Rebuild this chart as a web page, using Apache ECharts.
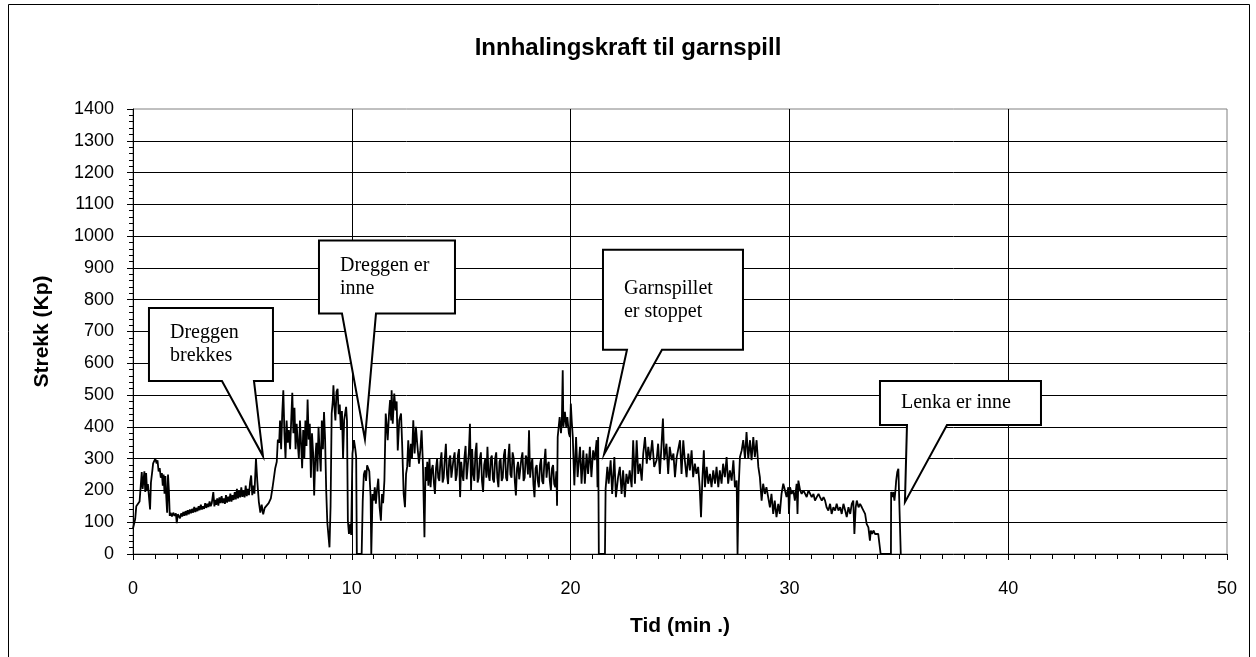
<!DOCTYPE html>
<html>
<head>
<meta charset="utf-8">
<script src="https://cdn.jsdelivr.net/npm/echarts@6/dist/echarts.min.js"></script>
<style>
  html, body { margin: 0; padding: 0; background: #fff; }
  #chart { width: 1256px; height: 657px; }
</style>
</head>
<body>
<div id="chart"></div>
<script>
// måledata: [tid (min), strekk (Kp)]
const punkter = [
  [0.00, 80], [0.05, 95], [0.10, 110], [0.15, 150], [0.22, 155], [0.30, 165], [0.36, 160], [0.40, 258],
  [0.44, 205], [0.48, 210], [0.52, 260], [0.56, 195], [0.60, 255], [0.64, 200], [0.68, 220], [0.72, 215],
  [0.78, 140], [0.82, 225], [0.88, 260], [0.92, 285], [0.97, 290], [1.02, 300], [1.08, 285], [1.12, 295],
  [1.17, 260], [1.22, 270], [1.27, 240], [1.32, 255], [1.36, 215], [1.40, 250], [1.44, 190], [1.48, 245],
  [1.52, 180], [1.56, 130], [1.60, 250], [1.64, 200], [1.68, 120], [1.72, 130], [1.78, 118], [1.84, 130],
  [1.90, 120], [1.96, 128], [2.00, 97], [2.05, 125], [2.10, 130], [2.15, 112], [2.20, 128], [2.25, 118],
  [2.30, 132], [2.35, 120], [2.40, 135], [2.45, 122], [2.50, 138], [2.55, 125], [2.60, 140], [2.65, 128],
  [2.70, 142], [2.75, 130], [2.80, 148], [2.85, 132], [2.90, 145], [2.95, 135], [3.00, 150], [3.05, 138],
  [3.10, 155], [3.15, 140], [3.20, 150], [3.25, 142], [3.30, 160], [3.35, 145], [3.40, 158], [3.45, 148],
  [3.50, 165], [3.55, 150], [3.60, 160], [3.67, 195], [3.72, 150], [3.76, 170], [3.80, 155], [3.85, 175],
  [3.90, 152], [3.95, 178], [4.00, 160], [4.05, 182], [4.10, 160], [4.15, 175], [4.20, 158], [4.25, 185],
  [4.30, 162], [4.35, 180], [4.40, 165], [4.45, 190], [4.50, 165], [4.55, 185], [4.60, 170], [4.65, 195],
  [4.70, 172], [4.75, 205], [4.80, 175], [4.85, 200], [4.90, 178], [4.95, 210], [5.00, 180], [5.05, 200],
  [5.10, 178], [5.15, 215], [5.20, 182], [5.25, 205], [5.30, 185], [5.35, 225], [5.40, 247], [5.45, 185],
  [5.50, 215], [5.55, 190], [5.62, 300], [5.68, 230], [5.75, 165], [5.82, 130], [5.88, 155], [5.95, 125],
  [6.02, 145], [6.10, 140], [6.20, 160], [6.30, 175], [6.38, 210], [6.45, 245], [6.50, 270], [6.57, 290],
  [6.62, 360], [6.68, 350], [6.72, 420], [6.77, 330], [6.82, 440], [6.87, 515], [6.92, 380], [6.97, 300],
  [7.02, 420], [7.07, 350], [7.12, 390], [7.18, 330], [7.23, 420], [7.28, 507], [7.33, 380], [7.38, 460],
  [7.43, 330], [7.48, 410], [7.53, 350], [7.58, 300], [7.63, 420], [7.68, 350], [7.73, 270], [7.78, 390],
  [7.83, 300], [7.88, 420], [7.93, 340], [7.98, 486], [8.03, 360], [8.08, 410], [8.13, 240], [8.18, 380],
  [8.23, 320], [8.28, 184], [8.33, 300], [8.38, 350], [8.43, 260], [8.48, 400], [8.53, 320], [8.58, 260],
  [8.63, 420], [8.68, 330], [8.73, 447], [8.78, 360], [8.83, 200], [8.88, 100], [8.93, 60], [8.98, 21],
  [9.03, 150], [9.08, 442], [9.13, 480], [9.16, 531], [9.20, 470], [9.25, 420], [9.30, 510], [9.35, 520],
  [9.40, 440], [9.45, 470], [9.50, 390], [9.55, 450], [9.60, 300], [9.65, 421], [9.69, 421], [9.74, 463],
  [9.78, 420], [9.82, 105], [9.87, 63], [9.93, 95], [9.97, 60], [10.03, 316], [10.10, 358], [10.16, 330],
  [10.20, 305], [10.23, 0], [10.45, 0], [10.50, 168], [10.55, 250], [10.60, 263], [10.65, 230], [10.70, 279],
  [10.75, 274], [10.80, 260], [10.86, 180], [10.89, 0], [10.92, 0], [10.95, 189], [11.00, 168], [11.05, 210],
  [11.10, 158], [11.15, 200], [11.21, 237], [11.27, 147], [11.33, 105], [11.38, 189], [11.43, 160], [11.49, 231],
  [11.55, 442], [11.60, 400], [11.64, 358], [11.70, 440], [11.75, 484], [11.80, 420], [11.82, 515], [11.87, 410],
  [11.94, 505], [12.00, 452], [12.05, 480], [12.10, 326], [12.17, 421], [12.25, 442], [12.30, 347], [12.37, 189],
  [12.43, 147], [12.48, 252], [12.53, 274], [12.58, 358], [12.64, 274], [12.70, 347], [12.75, 300], [12.81, 421],
  [12.87, 316], [12.93, 400], [12.99, 347], [13.07, 284], [13.13, 326], [13.19, 389], [13.25, 284], [13.32, 53],
  [13.37, 274], [13.40, 230], [13.45, 290], [13.50, 215], [13.55, 300], [13.60, 210], [13.65, 265], [13.70, 280],
  [13.75, 225], [13.80, 189], [13.85, 270], [13.90, 300], [13.95, 240], [14.00, 230], [14.05, 290], [14.10, 320],
  [14.15, 225], [14.20, 240], [14.25, 300], [14.30, 347], [14.35, 250], [14.40, 220], [14.45, 295], [14.50, 310],
  [14.55, 240], [14.60, 235], [14.65, 300], [14.70, 320], [14.75, 230], [14.80, 250], [14.85, 310], [14.90, 330],
  [14.95, 179], [15.00, 290], [15.05, 250], [15.10, 230], [15.15, 305], [15.20, 340], [15.25, 235], [15.30, 240],
  [15.35, 320], [15.40, 410], [15.45, 200], [15.50, 330], [15.55, 250], [15.60, 230], [15.65, 320], [15.70, 350],
  [15.75, 225], [15.80, 240], [15.85, 300], [15.90, 320], [15.95, 230], [16.00, 195], [16.05, 280], [16.10, 300],
  [16.15, 240], [16.20, 337], [16.25, 250], [16.30, 230], [16.35, 300], [16.40, 310], [16.45, 235], [16.50, 225],
  [16.55, 300], [16.60, 320], [16.65, 240], [16.70, 210], [16.75, 290], [16.80, 300], [16.85, 230], [16.90, 240],
  [16.95, 310], [17.00, 330], [17.05, 240], [17.10, 230], [17.15, 300], [17.20, 347], [17.25, 250], [17.30, 240],
  [17.35, 320], [17.40, 300], [17.45, 230], [17.50, 184], [17.55, 270], [17.60, 290], [17.65, 235], [17.70, 230],
  [17.75, 300], [17.80, 320], [17.85, 230], [17.90, 240], [17.95, 310], [18.00, 300], [18.05, 250], [18.10, 389],
  [18.15, 240], [18.20, 280], [18.25, 300], [18.30, 220], [18.35, 179], [18.40, 270], [18.45, 280], [18.50, 230],
  [18.55, 210], [18.60, 280], [18.65, 300], [18.70, 230], [18.75, 220], [18.80, 290], [18.85, 331], [18.90, 240],
  [18.95, 280], [19.00, 290], [19.05, 230], [19.10, 200], [19.15, 270], [19.20, 280], [19.25, 220], [19.30, 210],
  [19.35, 260], [19.38, 152], [19.41, 368], [19.50, 431], [19.56, 380], [19.60, 420], [19.64, 578], [19.67, 400],
  [19.74, 447], [19.80, 400], [19.85, 431], [19.92, 380], [19.97, 368], [20.01, 473], [20.05, 420], [20.10, 368],
  [20.17, 216], [20.25, 368], [20.32, 242], [20.43, 337], [20.50, 221], [20.58, 326], [20.65, 221], [20.73, 316],
  [20.80, 252], [20.88, 337], [20.95, 242], [21.03, 326], [21.10, 295], [21.19, 358], [21.23, 210], [21.26, 368],
  [21.29, 0], [21.57, 0], [21.60, 205], [21.68, 274], [21.74, 221], [21.83, 295], [21.90, 189], [22.00, 305],
  [22.07, 179], [22.17, 242], [22.25, 274], [22.33, 189], [22.40, 263], [22.48, 179], [22.55, 252], [22.63, 221],
  [22.70, 263], [22.79, 210], [22.86, 358], [22.94, 221], [23.02, 358], [23.09, 252], [23.17, 284], [23.25, 231],
  [23.32, 316], [23.40, 368], [23.48, 284], [23.55, 337], [23.63, 295], [23.73, 358], [23.82, 274], [23.93, 295],
  [24.00, 347], [24.08, 252], [24.15, 337], [24.22, 426], [24.28, 295], [24.38, 347], [24.46, 252], [24.53, 337],
  [24.62, 295], [24.70, 316], [24.77, 242], [24.85, 305], [25.00, 358], [25.07, 252], [25.15, 358], [25.22, 295],
  [25.30, 242], [25.38, 316], [25.45, 263], [25.53, 326], [25.60, 242], [25.68, 284], [25.75, 252], [25.83, 274],
  [25.90, 210], [25.96, 116], [26.02, 231], [26.09, 326], [26.14, 210], [26.22, 274], [26.29, 221], [26.37, 252],
  [26.44, 210], [26.52, 263], [26.60, 221], [26.67, 274], [26.75, 210], [26.82, 263], [26.90, 221], [26.97, 284],
  [27.05, 242], [27.13, 305], [27.20, 221], [27.28, 263], [27.36, 231], [27.44, 295], [27.51, 210], [27.59, 231],
  [27.63, 0], [27.68, 210], [27.74, 305], [27.82, 326], [27.89, 358], [27.97, 300], [28.04, 384], [28.12, 300],
  [28.20, 358], [28.27, 295], [28.35, 368], [28.42, 305], [28.50, 358], [28.58, 274], [28.65, 242], [28.73, 168],
  [28.80, 221], [28.88, 189], [28.95, 210], [29.03, 179], [29.11, 147], [29.18, 189], [29.26, 126], [29.33, 168],
  [29.41, 116], [29.49, 158], [29.56, 126], [29.64, 189], [29.72, 221], [29.80, 200], [29.87, 179], [29.95, 210],
  [29.98, 126], [30.03, 210], [30.10, 189], [30.18, 200], [30.25, 168], [30.33, 221], [30.37, 126], [30.41, 231],
  [30.49, 200], [30.56, 189], [30.64, 200], [30.72, 189], [30.79, 179], [30.87, 200], [30.95, 189], [31.02, 179],
  [31.10, 189], [31.17, 168], [31.25, 179], [31.33, 189], [31.40, 179], [31.48, 168], [31.56, 179], [31.63, 168],
  [31.70, 147], [31.78, 137], [31.86, 158], [31.93, 126], [32.01, 147], [32.09, 137], [32.16, 158], [32.24, 137],
  [32.32, 147], [32.39, 126], [32.47, 158], [32.55, 137], [32.62, 116], [32.70, 147], [32.78, 126], [32.85, 158],
  [32.92, 168], [32.97, 63], [33.03, 147], [33.08, 168], [33.16, 147], [33.23, 158], [33.31, 147], [33.38, 142],
  [33.46, 126], [33.53, 95], [33.61, 84], [33.68, 42], [33.72, 74], [33.78, 63], [33.85, 74], [33.91, 63],
  [33.99, 68], [34.06, 63], [34.14, 63], [34.17, 0], [34.64, 0], [34.65, 195], [34.70, 179], [34.75, 195],
  [34.80, 168], [34.84, 195], [34.88, 231], [34.93, 258], [34.98, 268], [35.06, 263], [35.09, 0]
];

// merknader: tekstlinjer og punktet pila peker på [tid, strekk]
const merknadTekster = [
  ['Dreggen', 'brekkes'],
  ['Dreggen er', 'inne'],
  ['Garnspillet', 'er stoppet'],
  ['Lenka er inne']
];
const merknadSpiss = [[5.94, 308], [10.6, 361], [21.53, 314], [35.28, 163]];

// plassering av boksene (øvre venstre hjørne i dataenheter), størrelse og pilfot i piksler
const merknadOppsett = [
  { hj: [0.73, 774], b: 124, h: 73, fot: [73, 105] },
  { hj: [8.5, 986], b: 136, h: 73, fot: [23, 57] },
  { hj: [21.48, 957], b: 140, h: 100, fot: [24, 59] },
  { hj: [34.14, 544], b: 161, h: 44, fot: [27, 67] }
];

const sans = '"Liberation Sans", Arial, sans-serif';
const serif = '"Liberation Serif", "Times New Roman", serif';

const chart = echarts.init(document.getElementById('chart'), null, { renderer: 'canvas' });

chart.setOption({
  animation: false,
  backgroundColor: '#fff',
  title: {
    text: 'Innhalingskraft til garnspill',
    left: 'center',
    top: 31,
    textStyle: { fontFamily: sans, fontSize: 24, fontWeight: 'bold', color: '#000' }
  },
  grid: {
    left: 133, right: 29, top: 109, bottom: 103,
    show: true, borderColor: '#808080', borderWidth: 1
  },
  xAxis: {
    type: 'value', min: 0, max: 50, interval: 10,
    name: 'Tid (min .)', nameLocation: 'middle', nameGap: 62,
    nameTextStyle: { fontFamily: sans, fontSize: 21, fontWeight: 'bold', color: '#000' },
    axisLine: { show: true, onZero: false, lineStyle: { color: '#000', width: 1 } },
    axisTick: { show: true, length: 6, lineStyle: { color: '#000' } },
    minorTick: { show: true, splitNumber: 10, length: 5, lineStyle: { color: '#000' } },
    splitLine: { show: true, showMinLine: false, showMaxLine: false, lineStyle: { color: '#000', width: 1 } },
    axisLabel: { fontFamily: sans, fontSize: 18, color: '#000', margin: 26 }
  },
  yAxis: {
    type: 'value', min: 0, max: 1400, interval: 100,
    name: 'Strekk (Kp)', nameLocation: 'middle', nameGap: 80, nameRotate: 90,
    nameTextStyle: { fontFamily: sans, fontSize: 21, fontWeight: 'bold', color: '#000' },
    axisLine: { show: true, lineStyle: { color: '#000', width: 1 } },
    axisTick: { show: true, length: 6, lineStyle: { color: '#000' } },
    minorTick: { show: true, splitNumber: 5, length: 4, lineStyle: { color: '#000' } },
    splitLine: { show: true, showMinLine: false, showMaxLine: false, lineStyle: { color: '#000', width: 1 } },
    axisLabel: { fontFamily: sans, fontSize: 18, color: '#000', margin: 19, formatter: v => String(v) }
  },
  series: [{
    type: 'line',
    data: punkter,
    showSymbol: false,
    lineStyle: { color: '#000', width: 1.8 },
    z: 3
  }]
});

// tegn snakkeboblene når skalaene er klare
const grafikk = [{
  type: 'rect', z: 100,
  shape: { x: 8.5, y: 4.5, width: 1241, height: 700 },
  style: { fill: 'none', stroke: '#000', lineWidth: 1 }
}];

merknadTekster.forEach((linjer, i) => {
  const o = merknadOppsett[i];
  const [x0, y0] = chart.convertToPixel({ gridIndex: 0 }, o.hj);
  const [sx, sy] = chart.convertToPixel({ gridIndex: 0 }, merknadSpiss[i]);
  const x1 = x0 + o.b;
  const y1 = y0 + o.h;
  grafikk.push({
    type: 'polygon', z: 100,
    shape: {
      points: [[x0, y0], [x1, y0], [x1, y1], [x0 + o.fot[1], y1], [sx, sy], [x0 + o.fot[0], y1], [x0, y1]]
    },
    style: { fill: '#fff', stroke: '#000', lineWidth: 2, lineJoin: 'miter' }
  });
  grafikk.push({
    type: 'text', z: 101,
    x: x0 + 21, y: (y0 + y1) / 2,
    style: {
      text: linjer.join('\n'),
      font: '20px ' + serif,
      lineHeight: 23,
      fill: '#000',
      verticalAlign: 'middle',
      align: 'left'
    }
  });
});

chart.setOption({ graphic: grafikk });
</script>
</body>
</html>
